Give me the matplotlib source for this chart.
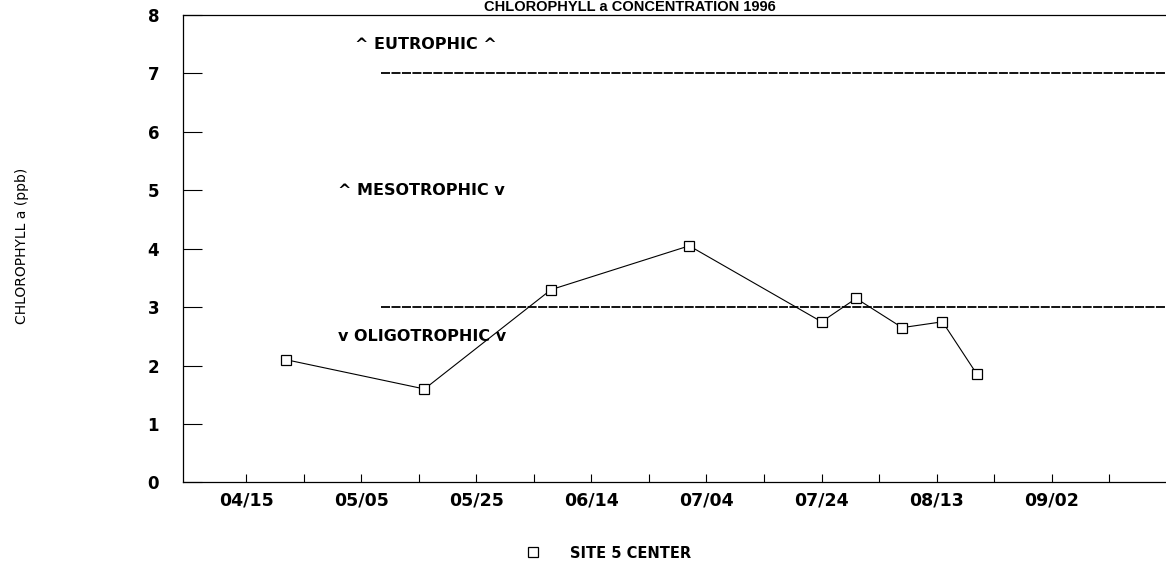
import datetime as dt
import matplotlib
matplotlib.use('Agg')
import matplotlib.pyplot as plt
import matplotlib.dates as mdates
from matplotlib.lines import Line2D

plt.rcParams['font.family'] = ['DejaVu Sans']

# sample dates (1996) and chlorophyll a readings
sample_dates = ['1996-04-22', '1996-05-16', '1996-06-07', '1996-07-01', '1996-07-24',
                '1996-07-30', '1996-08-07', '1996-08-14', '1996-08-20']
chl_a = [2.1, 1.6, 3.3, 4.05, 2.75, 3.15, 2.65, 2.75, 1.85]

# trophic boundaries
bound_levels = [7, 3]
bound_start = '1996-05-08 10:00'
zone_labels = ['^ EUTROPHIC ^', '^ MESOTROPHIC v', 'v OLIGOTROPHIC v']
zone_label_y = [7.5, 5.0, 2.5]
zone_label_x = ['1996-05-04', '1996-05-01', '1996-05-01']

x_start, x_end = '1996-04-04', '1996-09-21 20:00'
tick_first = '1996-04-15'

dates = [dt.datetime.fromisoformat(d) for d in sample_dates]
xmin = mdates.date2num(dt.datetime.fromisoformat(x_start))
xmax = mdates.date2num(dt.datetime.fromisoformat(x_end))

fig = plt.figure(figsize=(11.66, 5.63), dpi=100)
ax = fig.add_axes([0.1567, 0.1430, 1 - 0.1567, 0.8304])

ax.plot(dates, chl_a, color='black', lw=0.8, marker='s', ms=7,
        mfc='white', mec='black', mew=0.9, zorder=3)

for lvl in bound_levels:
    ax.hlines(lvl, mdates.date2num(dt.datetime.fromisoformat(bound_start)), xmax,
              color='black', lw=1.3, linestyles=(0, (5, 0.8)), zorder=2)

for txt, yv, xd in zip(zone_labels, zone_label_y, zone_label_x):
    ax.text(dt.datetime.fromisoformat(xd), yv, txt, fontsize=11.5, fontweight='bold',
            ha='left', va='center')

ax.set_xlim(xmin, xmax)
ax.set_ylim(0, 8)

# ticks every 10 days, labels every 20
tick_dates = []
d = dt.datetime.fromisoformat(tick_first)
while mdates.date2num(d) <= xmax:
    tick_dates.append(d)
    d += dt.timedelta(days=10)
ax.set_xticks(tick_dates)
ax.set_xticklabels([t.strftime('%m/%d') if i % 2 == 0 else '' for i, t in enumerate(tick_dates)],
                   fontsize=12.5, fontweight='bold')
ax.tick_params(axis='x', direction='in', length=6, width=0.8, pad=6.5)

ax.set_yticks(range(0, 9))
ax.set_yticklabels([str(v) for v in range(0, 9)], fontsize=12, fontweight='bold')
ax.tick_params(axis='y', direction='in', length=14, width=0.8, pad=17)

ax.spines['right'].set_visible(False)
for s in ['left', 'top', 'bottom']:
    ax.spines[s].set_linewidth(0.9)

fig.text(22.5 / 1166, 1 - 246 / 563, 'CHLOROPHYLL a (ppb)', rotation=90,
         ha='center', va='center', fontsize=10, family='Liberation Sans Narrow')

fig.text(630 / 1166, 1.0, 'CHLOROPHYLL a CONCENTRATION 1996',
         ha='center', va='top', fontsize=10.5, fontweight='bold',
         family='Liberation Sans')

handle = Line2D([], [], ls='none', marker='s', ms=7, mfc='white', mec='black', mew=0.9)
fig.legend([handle], ['SITE 5 CENTER'], loc='center left',
           bbox_to_anchor=(518 / 1166, 1 - 553 / 563), frameon=False,
           borderpad=0, handlelength=1.0, handletextpad=2.1,
           prop={'size': 10.5, 'weight': 'bold'})

fig.savefig('out.png', dpi=100, facecolor='white')
